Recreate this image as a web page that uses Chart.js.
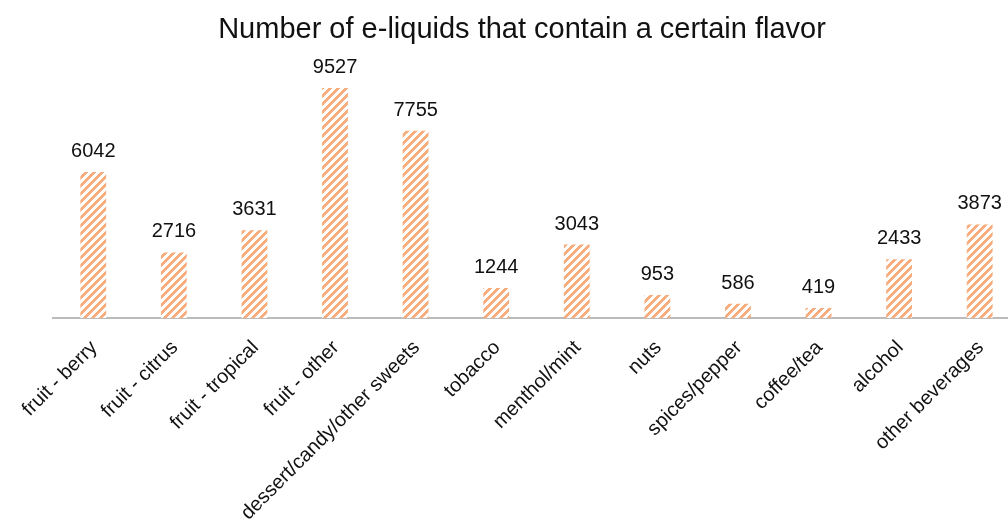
<!DOCTYPE html>
<html>
<head>
<meta charset="utf-8">
<title>E-liquid flavors</title>
<script src="https://cdn.jsdelivr.net/npm/chart.js@4.4.1/dist/chart.umd.min.js"></script>
<style>
  html, body { margin: 0; padding: 0; background: #ffffff; overflow: hidden; }
  #frame { width: 1008px; height: 522px; overflow: hidden; position: relative; }
  #holder { position: absolute; left: 0; top: 0; width: 1040px; height: 522px; }
</style>
</head>
<body>
<div id="frame"><div id="holder"><canvas id="chart"></canvas></div></div>
<script>
// Flavor categories and the number of e-liquids containing each one
const categories = [
  'fruit - berry', 'fruit - citrus', 'fruit - tropical', 'fruit - other',
  'dessert/candy/other sweets', 'tobacco', 'menthol/mint', 'nuts',
  'spices/pepper', 'coffee/tea', 'alcohol', 'other beverages'
];
const counts = [6042, 2716, 3631, 9527, 7755, 1244, 3043, 953, 586, 419, 2433, 3873];
const chartTitle = 'Number of e-liquids that contain a certain flavor';

const FONT = '"Liberation Sans", Arial, Helvetica, sans-serif';
const TEXT = '#111111';

// Upward-diagonal stripe fill for the bars
function stripePattern(color) {
  const size = 8;
  const tile = document.createElement('canvas');
  tile.width = size;
  tile.height = size;
  const t = tile.getContext('2d');
  t.fillStyle = '#ffffff';
  t.fillRect(0, 0, size, size);
  t.fillStyle = color;
  for (let y = 0; y < size; y++) {
    for (let x = 0; x < size; x++) {
      if ((x + y) % size < 4) t.fillRect(x, y, 1, 1);
    }
  }
  return t.createPattern(tile, 'repeat');
}

// Value printed above each bar
const valueLabels = {
  id: 'valueLabels',
  afterDatasetsDraw(chart) {
    const ctx = chart.ctx;
    const meta = chart.getDatasetMeta(0);
    const values = chart.data.datasets[0].data;
    ctx.save();
    ctx.font = '20px ' + FONT;
    ctx.fillStyle = TEXT;
    ctx.textAlign = 'center';
    ctx.textBaseline = 'alphabetic';
    meta.data.forEach((bar, i) => {
      ctx.fillText(String(values[i]), bar.x, bar.y - 15);
    });
    ctx.restore();
  }
};

new Chart(document.getElementById('chart'), {
  type: 'bar',
  data: {
    labels: categories,
    datasets: [{
      data: counts,
      backgroundColor: stripePattern('rgb(247,173,125)'),
      borderWidth: 0,
      categoryPercentage: 0.8,
      barPercentage: 0.4
    }]
  },
  options: {
    responsive: true,
    maintainAspectRatio: false,
    animation: false,
    layout: { padding: { left: 24, right: 20, top: 0, bottom: 0 } },
    plugins: {
      legend: { display: false },
      tooltip: { enabled: false },
      title: {
        display: true,
        text: chartTitle,
        color: TEXT,
        font: { family: FONT, size: 29, weight: 'normal' },
        padding: { top: 12.6, bottom: 5.0 }
      }
    },
    scales: {
      x: {
        grid: { display: false, drawTicks: false },
        border: { display: true, color: '#bbbbbb', width: 2 },
        ticks: {
          color: TEXT,
          font: { family: FONT, size: 20 },
          autoSkip: false,
          maxRotation: 45,
          minRotation: 45,
          padding: 18,
          labelOffset: 1
        },
        afterFit(scale) { scale.height = 204; }
      },
      y: {
        min: 0,
        max: 11000,
        grid: { display: false, drawTicks: false },
        border: { display: false },
        ticks: { display: false },
        afterFit(scale) { scale.width = 29; }
      }
    }
  },
  plugins: [valueLabels]
});
</script>
</body>
</html>
